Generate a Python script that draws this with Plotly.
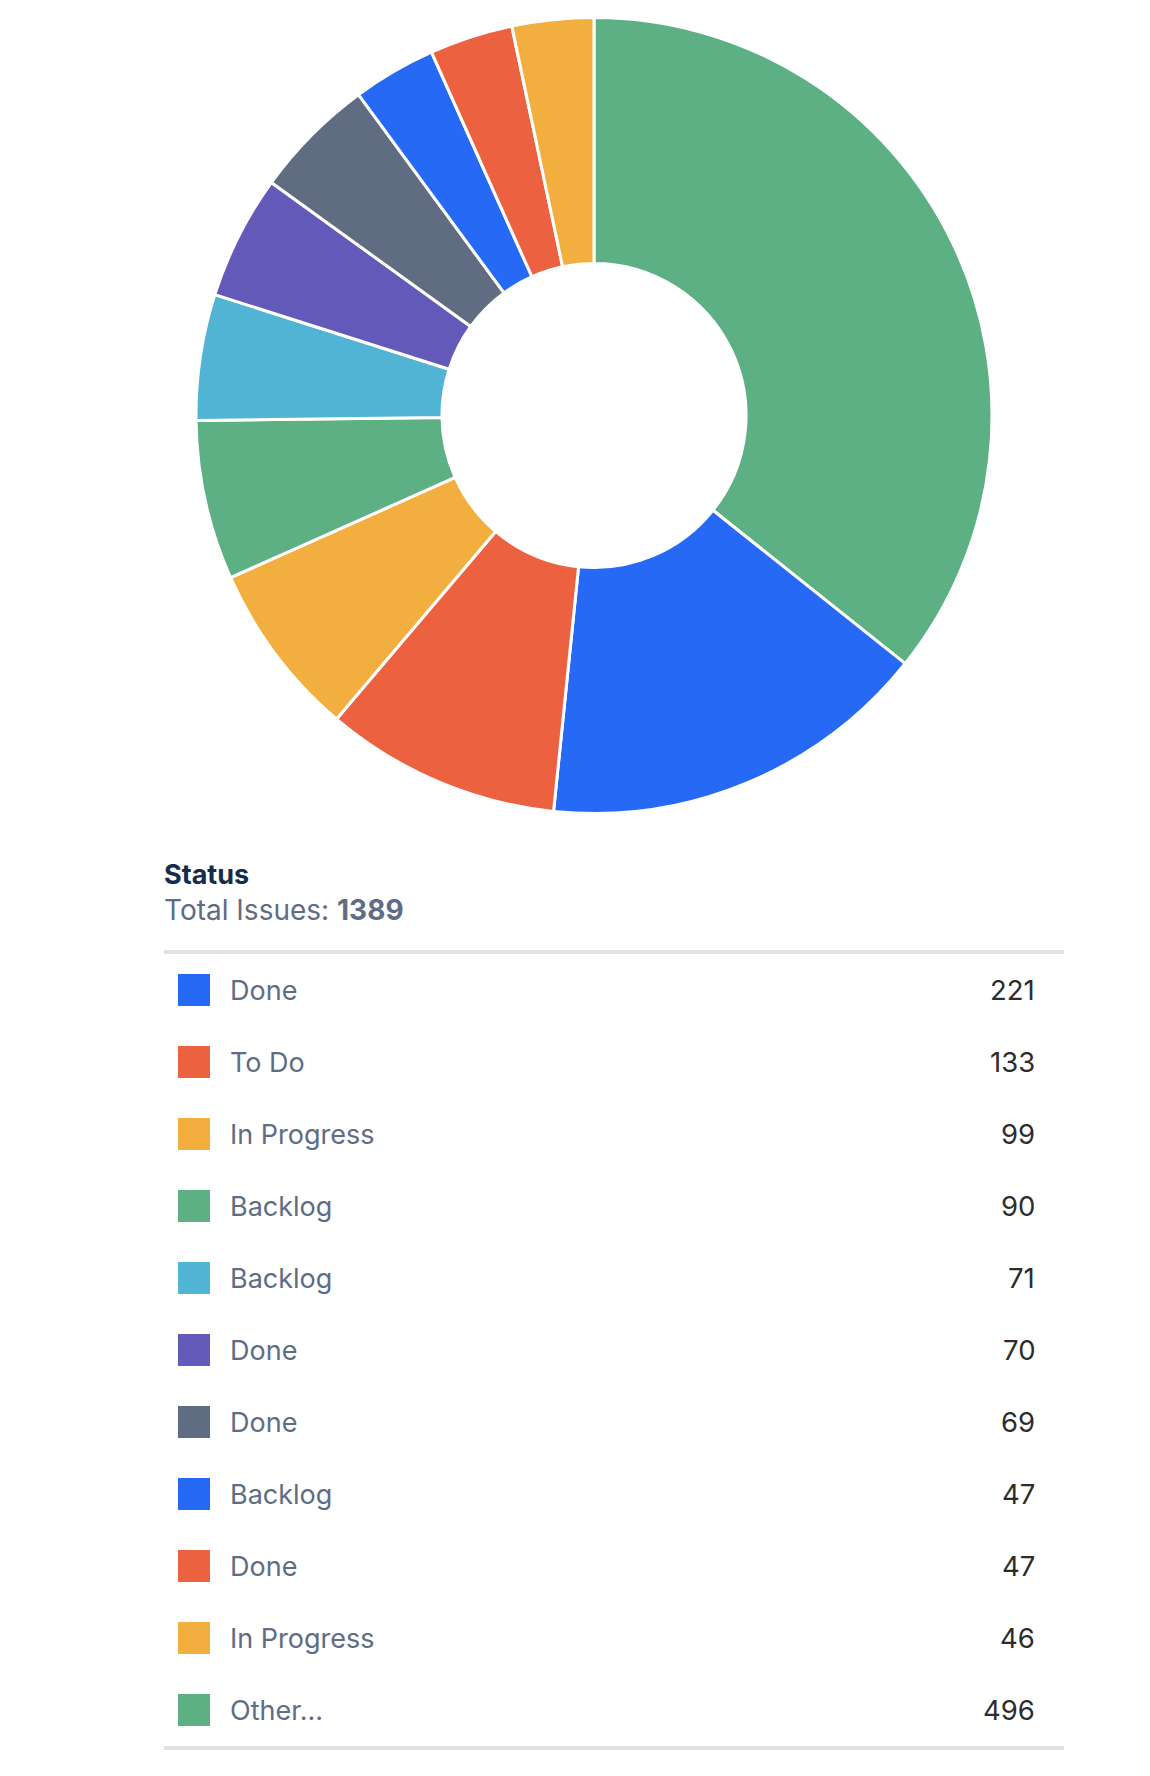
import plotly.graph_objects as go

# ---- data ----
status_names = ["Done", "To Do", "In Progress", "Backlog", "Backlog", "Done",
                "Done", "Backlog", "Done", "In Progress", "Other..."]
status_counts = [221, 133, 99, 90, 71, 70, 69, 47, 47, 46, 496]
status_colors = ["#2669F5", "#EC6240", "#F2AE3E", "#5DB083", "#51B4D5", "#6359B9",
                 "#5F6C81", "#2669F5", "#EC6240", "#F2AE3E", "#5DB083"]
chart_title = "Status"
total_label = "Total Issues:"
total_issues = sum(status_counts)

W, H = 1150, 1776
OFF = 8  # page body margin added around the figure
PAD = 3  # annotation inner padding

# ---- layout constants (page pixels) ----
cx, cy, R = 594 - OFF, 415.5 - OFF, 398
row0_px, row_step = 990 - OFF, 72
sq_x, label_x, num_x = 194 - OFF, 231 - OFF - PAD, 1034 - OFF + PAD
line_x0, line_x1 = 164 - OFF, 1064 - OFF
head_x = 164 - OFF - 2

fig = go.Figure()

# pie: "Other..." slice first (starts at 12 o'clock), then legend order
pie_vals = status_counts[-1:] + status_counts[:-1]
pie_cols = status_colors[-1:] + status_colors[:-1]
pie_names = status_names[-1:] + status_names[:-1]
fig.add_trace(go.Pie(
    values=pie_vals,
    labels=[f"{n} ({i})" for i, n in enumerate(pie_names)],
    hovertext=pie_names,
    marker=dict(colors=pie_cols, line=dict(color="white", width=3)),
    hole=0.382,
    sort=False,
    direction="clockwise",
    rotation=0,
    textinfo="none",
    showlegend=False,
    domain=dict(x=[(cx - R) / W, (cx + R) / W],
                y=[1 - (cy + R) / H, 1 - (cy - R) / H]),
))

# legend squares drawn through a hidden axis: x in px, y in row index
rows = list(range(len(status_names)))
fig.add_trace(go.Scatter(
    x=[sq_x] * len(rows), y=rows, mode="markers",
    marker=dict(symbol="square", size=32, color=status_colors, line=dict(width=0)),
    hoverinfo="skip", showlegend=False, xaxis="x", yaxis="y",
))

font_family = "Inter, Roboto, 'Open Sans', sans-serif"
annotations = []
for i, (n, v) in enumerate(zip(status_names, status_counts)):
    annotations.append(dict(x=label_x, y=i, xref="x", yref="y", text=n,
                            showarrow=False, xanchor="left", yanchor="middle",
                            font=dict(size=27, color="#5E6C84", family=font_family)))
    annotations.append(dict(x=num_x, y=i, xref="x", yref="y", text=str(v),
                            showarrow=False, xanchor="right", yanchor="middle",
                            font=dict(size=27.5, color="#2C2C2E", family=font_family)))

def px_to_row(p):
    return (p - OFF - row0_px) / row_step

annotations.append(dict(x=head_x, y=px_to_row(874.5), xref="x", yref="y",
                        text=f"<b>{chart_title}</b>", showarrow=False,
                        xanchor="left", yanchor="middle",
                        font=dict(size=27, color="#172B4D", family=font_family)))
annotations.append(dict(x=head_x, y=px_to_row(909.5), xref="x", yref="y",
                        text=f"{total_label} <b>{total_issues}</b>", showarrow=False,
                        xanchor="left", yanchor="middle",
                        font=dict(size=28, color="#5E6C84", family=font_family)))

shapes = []
for p in (952, 1748):
    shapes.append(dict(type="line", xref="x", yref="y",
                       x0=line_x0, x1=line_x1, y0=px_to_row(p), y1=px_to_row(p),
                       line=dict(color="#DFE1E6", width=4)))

fig.update_layout(
    width=W, height=H,
    margin=dict(l=0, r=0, t=0, b=0),
    paper_bgcolor="white", plot_bgcolor="white",
    xaxis=dict(range=[0, W], domain=[0, 1], visible=False, fixedrange=True),
    yaxis=dict(range=[(H - row0_px) / row_step, (0 - row0_px) / row_step],
               domain=[0, 1], visible=False, fixedrange=True),
    annotations=annotations,
    shapes=shapes,
    showlegend=False,
)

fig.write_html("out.html")
